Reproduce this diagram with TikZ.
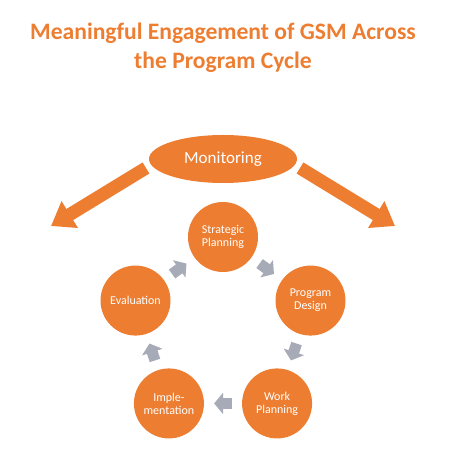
\documentclass[tikz,border=0pt]{standalone}
\usepackage{fontspec}
\setmainfont{Carlito}
\usetikzlibrary{shapes.geometric,arrows.meta}

\definecolor{gsmorange}{HTML}{ED7D31}
\definecolor{cyclegray}{HTML}{A7AAB7}

\begin{document}
\begin{tikzpicture}[
  x=1pt, y=1pt,
  stage/.style={circle, fill=gsmorange, text=white, minimum size=70pt,
    inner sep=0pt, align=center, font=\fontsize{12}{13}\selectfont},
  cyclearrow/.style={cyclegray, line width=11pt,
    -{Triangle[length=9pt 0 0, width=21pt 0 0]},
    shorten <=10pt, shorten >=10pt},
  bigarrow/.style={gsmorange, line width=13pt,
    -{Triangle[length=22pt 0 0, width=30pt 0 0]}},
]
  \useasboundingbox (0,0) rectangle (450,452);

  % title
  \node[text=gsmorange, align=center,
    font=\fontsize{23.6}{29}\selectfont\bfseries] (title) at (223,404)
    {Meaningful Engagement of GSM Across\\the Program Cycle};

  % monitoring and its two arrows
  \node[ellipse, fill=gsmorange, text=white, minimum width=148pt,
    minimum height=48pt, font=\fontsize{17}{20}\selectfont] (mon) at (223,293) {Monitoring};
  \coordinate (lstart) at (146,284);
  \coordinate (ltip)   at (51,226);
  \coordinate (rstart) at (300,284);
  \coordinate (rtip)   at (395,226);
  \draw[bigarrow] (lstart) -- (ltip);
  \draw[bigarrow] (rstart) -- (rtip);

  % program cycle
  \coordinate (cyc) at (223,123);
  \node[stage] (sp) at ([shift={(90:92)}]cyc)   {Strategic\\Planning};
  \node[stage] (pd) at ([shift={(18:92)}]cyc)   {Program\\Design};
  \node[stage] (wp) at ([shift={(-54:92)}]cyc)  {Work\\Planning};
  \node[stage] (im) at ([shift={(-126:92)}]cyc) {Imple-\\mentation};
  \node[stage] (ev) at ([shift={(162:92)}]cyc)  {Evaluation};

  \draw[cyclearrow] (sp) -- (pd);
  \draw[cyclearrow] (pd) -- (wp);
  \draw[cyclearrow] (wp) -- (im);
  \draw[cyclearrow] (im) -- (ev);
  \draw[cyclearrow] (ev) -- (sp);
\end{tikzpicture}
\end{document}
